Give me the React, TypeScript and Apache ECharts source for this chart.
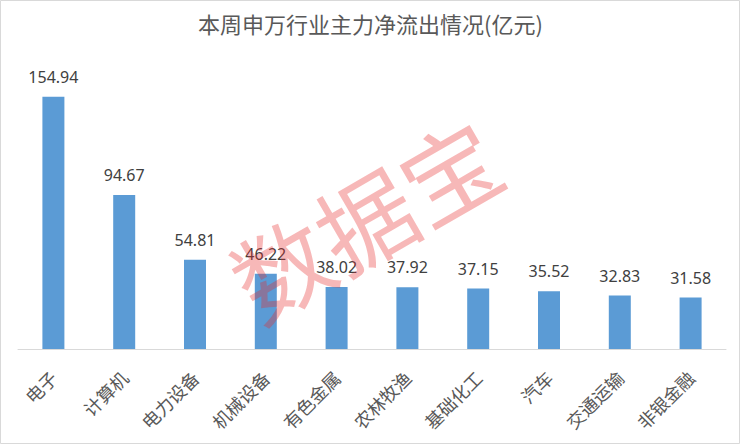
import React, { useEffect, useRef } from "react";
import * as echarts from "echarts";

const titleText = "本周申万行业主力净流出情况(亿元)";
const categories = ["电子", "计算机", "电力设备", "机械设备", "有色金属", "农林牧渔", "基础化工", "汽车", "交通运输", "非银金融"];
const values = [154.94, 94.67, 54.81, 46.22, 38.02, 37.92, 37.15, 35.52, 32.83, 31.58];
const watermark = "数据宝";

export default function App() {
  const ref = useRef<HTMLDivElement>(null);
  useEffect(() => {
    document.body.style.margin = "0";
    const chart = echarts.init(ref.current!, null, { renderer: "svg" });
    chart.setOption({
      animation: false,
      backgroundColor: "#ffffff",
      title: {
        text: titleText,
        left: "center",
        top: 7,
        textStyle: {
          fontFamily: "Noto Sans CJK SC",
          fontSize: 22,
          fontWeight: "normal",
          color: "#595959",
        },
      },
      grid: { left: 18, right: 15, top: 56, bottom: 96, containLabel: false },
      xAxis: {
        type: "category",
        data: categories,
        axisLine: { show: true, lineStyle: { color: "#d9d9d9", width: 1 } },
        axisTick: { show: false },
        axisLabel: {
          rotate: 45,
          margin: 25,
          interval: 0,
          color: "#595959",
          fontSize: 18,
          fontFamily: "Noto Sans CJK SC",
        },
      },
      yAxis: {
        type: "value",
        min: 0,
        max: 180,
        show: false,
        splitLine: { show: false },
      },
      series: [
        {
          type: "bar",
          data: values,
          barWidth: 22,
          itemStyle: { color: "#5b9bd5" },
          label: {
            show: true,
            position: "top",
            distance: 12,
            color: "#404040",
            fontSize: 16,
            fontFamily: "Noto Sans",
            formatter: (p: any) => p.value.toFixed(2),
          },
        },
      ],
      graphic: [
        {
          type: "rect",
          shape: { x: 0.5, y: 0.5, width: 739, height: 443 },
          style: { fill: "none", stroke: "#d9d9d9", lineWidth: 1 },
          silent: true,
          z: 100,
        },
        {
          type: "text",
          x: 364,
          y: 217,
          rotation: (30 * Math.PI) / 180,
          style: {
            text: watermark,
            font: "97px 'Noto Sans CJK SC'",
            fill: "rgba(232,40,40,0.33)",
            align: "center",
            verticalAlign: "middle",
          },
          silent: true,
          z: 100,
        },
      ],
    });
    return () => chart.dispose();
  }, []);
  return <div ref={ref} style={{ width: 741, height: 445 }} />;
}
